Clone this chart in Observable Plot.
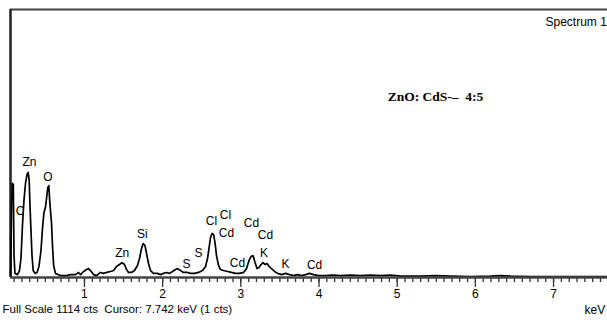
<!DOCTYPE html>
<html>
<head>
<meta charset="utf-8">
<script src="https://cdn.jsdelivr.net/npm/d3@7"></script>
<script src="https://cdn.jsdelivr.net/npm/@observablehq/plot@0.6"></script>
<style>
  html, body { margin: 0; padding: 0; background: white; overflow: hidden; }
  #chart svg { display: block; }
</style>
</head>
<body>
<div id="chart"></div>
<script>
// EDS spectrum (energy in keV, counts)
const energyKeV = [0.056,0.069,0.077,0.090,0.099,0.111,0.143,0.169,0.188,0.207,0.226,0.246,0.265,0.280,0.293,0.303,0.316,0.329,0.344,0.367,
  0.393,0.418,0.444,0.463,0.482,0.501,0.518,0.531,0.544,0.555,0.565,0.578,0.591,0.606,0.629,0.693,0.770,0.821,0.885,0.924,
  0.949,0.988,1.026,1.052,1.077,1.116,1.154,1.205,1.243,1.282,1.333,1.372,1.410,1.448,1.480,1.512,1.538,1.563,1.602,1.640,
  1.678,1.704,1.730,1.751,1.774,1.794,1.819,1.845,1.883,1.934,1.973,2.011,2.049,2.088,2.126,2.165,2.190,2.229,2.267,2.318,
  2.356,2.407,2.459,2.510,2.548,2.574,2.593,2.612,2.632,2.651,2.670,2.689,2.715,2.740,2.779,2.830,2.881,2.932,2.983,3.034,
  3.073,3.105,3.130,3.156,3.182,3.207,3.233,3.258,3.284,3.310,3.335,3.361,3.393,3.432,3.470,3.521,3.572,3.624,3.674,3.725,
  3.777,3.828,3.879,3.930,3.994,4.083,4.173,4.275,4.403,4.530,4.660,4.790,4.915,5.043,5.300,5.490,5.680,5.940,6.190,6.320,
  6.450,6.700,7.090,7.470,7.690];
const counts = [4,320,391,387,91,17,12,29,79,216,320,391,428,437,403,299,195,91,29,17,
  21,46,112,204,270,291,337,374,382,320,279,229,133,50,17,8,8,12,12,21,
  12,25,33,37,29,12,8,21,17,21,25,29,46,54,62,54,33,21,21,29,
  50,79,121,141,133,100,58,29,17,17,12,17,21,17,25,33,37,29,21,21,
  17,17,21,29,46,79,121,166,183,179,145,91,50,33,29,25,21,17,17,21,
  37,71,87,91,62,37,42,54,62,54,58,46,37,25,17,12,17,12,8,12,
  8,12,17,12,8,8,10,8,10,8,10,8,10,6,6,8,6,4,6,8,
  6,4,4,4,4];

// element labels
const labelText   = ["Zn","O","C","Zn","Si","S","S","Cl","Cl","Cd","Cd","Cd","Cd","K","K","Cd"];
const labelEnergy = [0.297,0.533,0.175,1.483,1.739,2.305,2.459,2.625,2.804,2.817,2.957,3.137,3.316,3.297,3.572,3.943];
const labelCounts = [478,418,274,100,179,54,100,233,258,183,58,224,175,100,54,50];

// axis ticks
const majorTicks = [1,2,3,4,5,6,7];
const minorTicks = d3.range(1, 77).map(i => i / 10);

const xDomain = [0.054, 7.69];
const fullScale = 1114;

const spectrum = energyKeV.map((e, i) => ({e, c: counts[i]}));
const labels = labelText.map((t, i) => ({t, e: labelEnergy[i], c: labelCounts[i]}));

const sans = "'Liberation Sans', Arial, Helvetica, sans-serif";

const chart = Plot.plot({
  width: 607,
  height: 320,
  marginLeft: 10,
  marginRight: 0,
  marginTop: 9,
  marginBottom: 43,
  style: {fontFamily: sans, fontSize: "12px", background: "white", color: "black", overflow: "hidden"},
  x: {domain: xDomain, label: null},
  y: {domain: [0, fullScale], axis: null},
  marks: [
    Plot.ruleY([fullScale], {stroke: "#444", strokeWidth: 2}),
    Plot.ruleX([xDomain[0]], {y1: 0, y2: fullScale, stroke: "#222", strokeWidth: 2.5}),
    Plot.axisX({ticks: minorTicks, tickSize: 5, tickFormat: () => "", label: null, stroke: "#333", strokeWidth: 1.3}),
    Plot.axisX({ticks: majorTicks, tickSize: 10, tickPadding: 2, tickFormat: d => String(d), label: null,
                fontSize: 12, stroke: "#333", strokeWidth: 1.3, fill: "black"}),
    Plot.line(spectrum, {x: "e", y: "c", stroke: "black", strokeWidth: 1.7, curve: "linear"}),
    Plot.ruleY([0], {stroke: "#444", strokeWidth: 2.5}),
    Plot.text(labels, {x: "e", y: "c", text: "t", fontSize: 12, fill: "black"}),
    Plot.text(["ZnO:\u00a0CdS-–\u00a0\u00a04:5"], {frameAnchor: "top-left", dx: 425, dy: 82, textAnchor: "middle",
               fontFamily: "'Liberation Serif', 'Times New Roman', serif", fontWeight: "bold", fontSize: 13.5}),
    Plot.text(["Spectrum 1"], {frameAnchor: "top-left", dx: 535, dy: 8, textAnchor: "start", fontSize: 12}),
    Plot.text(["Full Scale 1114 cts\u00a0\u00a0Cursor: 7.742 keV (1 cts)"], {frameAnchor: "bottom-left", dx: -8, dy: 35,
               textAnchor: "start", fontSize: 11.5}),
    Plot.text(["keV"], {frameAnchor: "bottom-left", dx: 574, dy: 36, textAnchor: "start", fontSize: 12})
  ]
});
document.getElementById("chart").appendChild(chart);
</script>
</body>
</html>
